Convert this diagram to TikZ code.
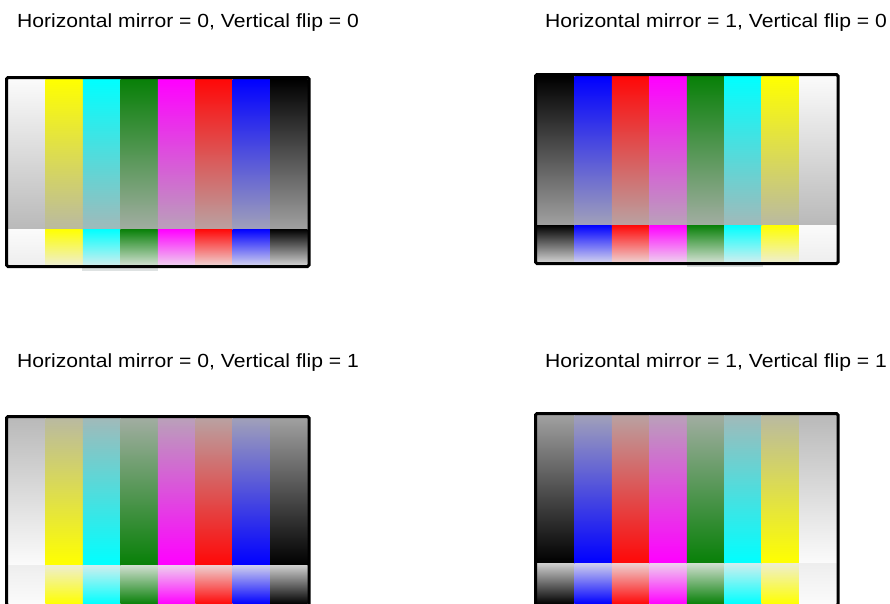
\documentclass[tikz,border=0pt]{standalone}
\usepackage{fontspec}
\setmainfont{Liberation Sans}
\definecolor{tg}{RGB}{178,178,178}
\definecolor{bg}{RGB}{236,236,236}
\definecolor{wbar}{RGB}{251,251,251}
\definecolor{ybar}{RGB}{255,255,0}
\definecolor{cbar}{RGB}{0,255,255}
\definecolor{gbar}{RGB}{8,128,8}
\definecolor{mbar}{RGB}{255,0,255}
\definecolor{rbar}{RGB}{255,8,8}
\definecolor{bbar}{RGB}{0,0,255}
\definecolor{kbar}{RGB}{0,0,0}
\definecolor{artif}{RGB}{222,226,226}
\tikzset{
  frame/.style={draw=black, line width=3pt, rounded corners=1.5pt},
  label/.style={anchor=base west, inner sep=0pt, font=\fontsize{19}{22}\selectfont},
}
\newcommand\lbl[1]{\scalebox{1.112}[1]{#1}}
\newcommand\drawpanel[6]{%
  \foreach \c [count=\i from 0] in {#5} {
    \pgfmathsetmacro\xa{#1+\i*37.45}
    \pgfmathsetmacro\xb{#1+(\i+1)*37.45}
    \ifnum#6=0
      \shade[top color=\c, bottom color=\c!10!tg] (\xa,#2) rectangle (\xb,#3);
      \shade[top color=\c, bottom color=\c!12!bg] (\xa,#3) rectangle (\xb,#4);
    \else
      \shade[top color=\c!10!tg, bottom color=\c] (\xa,#2) rectangle (\xb,#3);
      \shade[top color=\c!12!bg, bottom color=\c] (\xa,#3) rectangle (\xb,#4);
    \fi
  }
  \draw[frame] (#1-1.5,#2-1.5) rectangle (#1+299.6+1.5,#4+1.5);
}
\begin{document}
\begin{tikzpicture}[x=1pt,y=-1pt]
\useasboundingbox (0,0) rectangle (890,603);
\clip (0,0) rectangle (890,603);
\fill[white] (0,0) rectangle (890,603);

% labels
\node[label] (l1) at (17,27) {\lbl{Horizontal mirror = 0, Vertical flip = 0}};
\node[label] (l2) at (545,27) {\lbl{Horizontal mirror = 1, Vertical flip = 0}};
\node[label] (l3) at (17,367) {\lbl{Horizontal mirror = 0, Vertical flip = 1}};
\node[label] (l4) at (545,367) {\lbl{Horizontal mirror = 1, Vertical flip = 1}};

% small rendering remnants below the top panels
\fill[artif] (82,266) rectangle (158,271);
\fill[artif] (687,262) rectangle (763,267);

\drawpanel{8}{79}{229}{265}{wbar,ybar,cbar,gbar,mbar,rbar,bbar,kbar}{0}
\drawpanel{537}{76}{225}{262}{kbar,bbar,rbar,mbar,gbar,cbar,ybar,wbar}{0}
\drawpanel{8}{418}{565}{604}{wbar,ybar,cbar,gbar,mbar,rbar,bbar,kbar}{1}
\drawpanel{537}{415}{563}{604}{kbar,bbar,rbar,mbar,gbar,cbar,ybar,wbar}{1}
\end{tikzpicture}
\end{document}
